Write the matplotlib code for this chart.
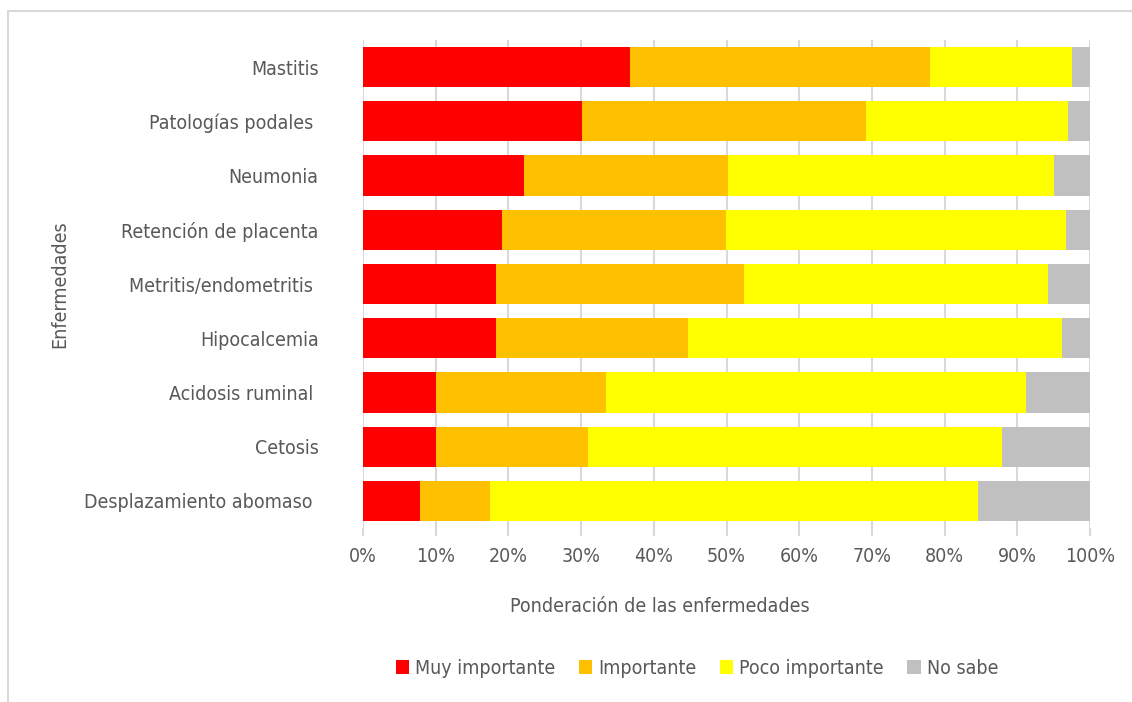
import numpy as np
import matplotlib.pyplot as plt
from matplotlib.patches import Rectangle

plt.rcParams['font.family'] = ['DejaVu Sans']
plt.rcParams['font.stretch'] = 'condensed'

## Data (percent of answers per disease)

diseases = ['Mastitis', 'Patologías podales ', 'Neumonia', 'Retención de placenta',
            'Metritis/endometritis ', 'Hipocalcemia', 'Acidosis ruminal ', 'Cetosis',
            'Desplazamiento abomaso ']
muy_importante = [36.7, 30.1, 22.1, 19.1, 18.3, 18.3, 10.0, 10.0, 7.8]
importante = [41.3, 39.1, 28.1, 30.8, 34.1, 26.4, 23.4, 20.9, 9.7]
poco_importante = [19.5, 27.8, 44.8, 46.8, 41.8, 51.4, 57.8, 57.0, 67.1]
no_sabe = [2.5, 3.0, 5.0, 3.3, 5.8, 3.9, 8.8, 12.1, 15.4]

series = [('Muy importante', muy_importante, '#FF0000'),
          ('Importante', importante, '#FFC000'),
          ('Poco importante', poco_importante, '#FFFF00'),
          ('No sabe', no_sabe, '#C0C0C0')]

txt = '#595959'
grid = '#D9D9D9'
fs = 14

fig = plt.figure(figsize=(11.32, 7.02), dpi=100)
ax = fig.add_axes([363/1132, 1 - 528/702, 727/1132, 488/702])

# light frame around the chart area
fig.patches.append(Rectangle((8/1132, -0.1), 1.2, 1.1 - 11/702, transform=fig.transFigure,
                             fill=False, edgecolor='#D9D9D9', linewidth=1.5))

y = np.arange(len(diseases))
left = np.zeros(len(diseases))
for name, vals, col in series:
    vals = np.array(vals) / 100
    ax.barh(y, vals, left=left, height=0.74, color=col, label=name, zorder=2)
    left = left + vals

ax.set_ylim(len(diseases) - 0.5, -0.5)
ax.set_xlim(0, 1)
ax.set_xticks(np.arange(0, 1.01, 0.1))
ax.set_xticklabels(['%d%%' % (v * 100) for v in np.arange(0, 1.01, 0.1)])
ax.set_yticks(y)
ax.set_yticklabels(diseases)

ax.grid(axis='x', color=grid, linewidth=1.5, zorder=0)
for s in ax.spines.values():
    s.set_visible(False)
ax.tick_params(axis='x', length=6, color=grid, width=1.5, pad=8, labelsize=fs, labelcolor=txt)
ax.tick_params(axis='y', length=0, pad=32, labelsize=fs, labelcolor=txt)

fig.text(660/1132, 1 - 607/702, 'Ponderación de las enfermedades', ha='center', va='center',
         fontsize=fs, color=txt)
fig.text(60/1132, 1 - 284/702, 'Enfermedades', ha='center', va='center', rotation=90,
         fontsize=fs, color=txt)

fig.legend(loc='center', bbox_to_anchor=(697/1132, 1 - 668/702), ncol=4, frameon=False,
           fontsize=fs, labelcolor=txt, handlelength=0.7, handleheight=0.7,
           handletextpad=0.3, columnspacing=1.2)

fig.savefig('out.png', dpi=100)
